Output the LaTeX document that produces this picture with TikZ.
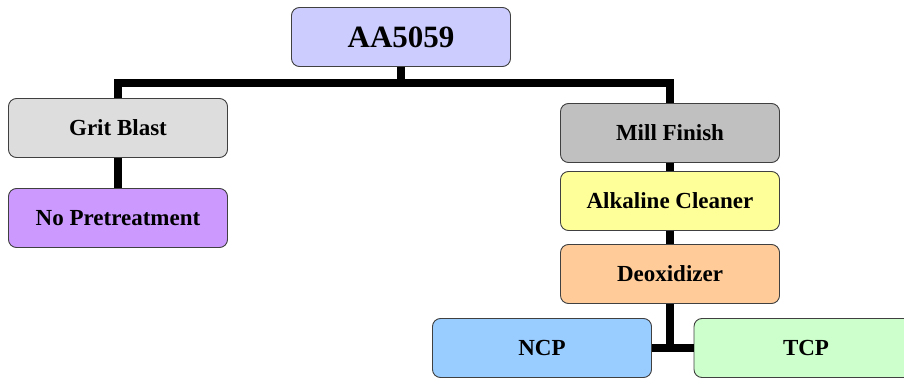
\documentclass[tikz,border=0pt]{standalone}
\usepackage{fontspec}
\setmainfont{Liberation Serif}
\usepackage{tikz}
\usepackage{xcolor}
\definecolor{lavender}{RGB}{204,204,255}
\definecolor{gritgray}{RGB}{221,221,221}
\definecolor{lilac}{RGB}{204,153,255}
\definecolor{millgray}{RGB}{192,192,192}
\definecolor{paleyellow}{RGB}{255,255,153}
\definecolor{peach}{RGB}{255,204,153}
\definecolor{skyblue}{RGB}{153,204,255}
\definecolor{mint}{RGB}{204,255,204}
\tikzset{
    step-box/.style = {draw=black!75, line width=0.9pt, rectangle, rounded corners=8pt, minimum width=219pt, minimum height=59pt, font=\fontsize{23}{26}\selectfont\bfseries},
    top-box/.style = {step-box, font=\fontsize{31}{34}\selectfont\bfseries},
    link/.style = {line width=7.5pt, black},
}

\begin{document}
\begin{tikzpicture}[x=1pt, y=-1pt]
\useasboundingbox (0,0) rectangle (904,379);
\node [top-box, fill=lavender] (alloy) at (401,37) {AA5059};
\node [step-box, fill=gritgray] (grit) at (118,128) {Grit Blast};
\node [step-box, fill=lilac] (nopre) at (118,218) {No Pretreatment};
\node [step-box, fill=millgray] (mill) at (670,133) {Mill Finish};
\node [step-box, fill=paleyellow] (alkaline) at (670,201) {Alkaline Cleaner};
\node [step-box, fill=peach] (deox) at (670,274) {Deoxidizer};
\node [step-box, fill=skyblue] (ncp) at (542,348) {NCP};
\node [step-box, fill=mint, minimum width=224pt] (tcp) at (806,348) {TCP};
\coordinate (bar) at (401,83);
\coordinate (split) at (670,348);
% connectors
\draw [link] (alloy.south) -- (bar);
\draw [link] (grit.north) |- (bar) -| (mill.north);
\draw [link] (grit.south) -- (nopre.north);
\draw [link] (mill.south) -- (alkaline.north);
\draw [link] (alkaline.south) -- (deox.north);
\draw [link] (deox.south) -- (split);
\draw [link] (ncp.east) -- (tcp.west);
\end{tikzpicture}
\end{document}
